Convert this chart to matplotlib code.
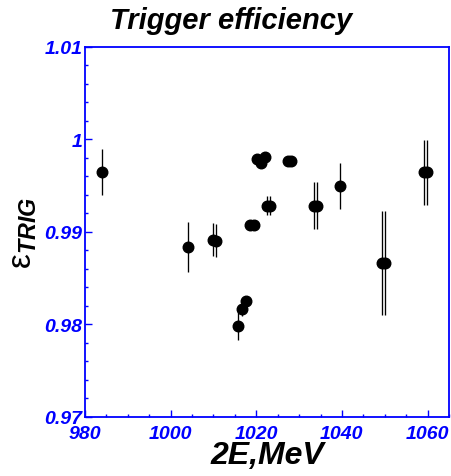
import matplotlib
matplotlib.use("Agg")
import matplotlib.pyplot as plt
from matplotlib.ticker import MultipleLocator, FormatStrFormatter

plt.rcParams['font.family'] = ['Liberation Sans', 'DejaVu Sans']
plt.rcParams['mathtext.fontset'] = 'custom'
plt.rcParams['mathtext.rm'] = 'Liberation Sans'
plt.rcParams['mathtext.it'] = 'Liberation Sans:italic:bold'

BLUE = '#0000ff'

# beam energy points (2E, MeV), trigger efficiency and its error
energy = [983.9, 1004.0, 1009.8, 1010.5, 1015.8, 1016.7, 1017.7, 1018.5, 1019.4,
          1020.1, 1021.0, 1022.1, 1022.5, 1023.2, 1027.4, 1028.1, 1033.4, 1034.1,
          1039.6, 1049.3, 1050.0, 1059.1, 1059.8]
eff = [0.9964, 0.9883, 0.9891, 0.9890, 0.9798, 0.9816, 0.9825, 0.9907, 0.9907,
       0.9978, 0.9974, 0.9981, 0.9928, 0.9928, 0.9976, 0.9976, 0.9928, 0.9928,
       0.9949, 0.9866, 0.9866, 0.9964, 0.9964]
eff_err = [0.0025, 0.0027, 0.0018, 0.0018, 0.0015, 0.0007, 0.0004, 0.0003, 0.0003,
           0.0003, 0.0003, 0.0003, 0.0010, 0.0010, 0.0004, 0.0004, 0.0025, 0.0025,
           0.0025, 0.0056, 0.0056, 0.0035, 0.0035]

fig = plt.figure(figsize=(4.51, 4.77), dpi=100)
ax = fig.add_axes([0.1885, 0.1247, 0.807, 0.7757])

ax.errorbar(energy, eff, yerr=eff_err, fmt='o', color='black', ms=7.6,
            elinewidth=0.95, capsize=0)

ax.set_xlim(980, 1065)
ax.set_ylim(0.97, 1.01)

for sp in ax.spines.values():
    sp.set_color(BLUE)
    sp.set_linewidth(1.3)

ax.xaxis.set_major_locator(MultipleLocator(20))
ax.xaxis.set_minor_locator(MultipleLocator(5))
ax.yaxis.set_major_locator(MultipleLocator(0.01))
ax.yaxis.set_minor_locator(MultipleLocator(0.002))
ax.yaxis.set_major_formatter(FormatStrFormatter('%g'))

ax.tick_params(which='both', direction='in', colors=BLUE, top=False, right=False)
ax.tick_params(which='major', length=5, width=1.0, labelsize=14)
ax.tick_params(which='minor', length=2.5, width=1.0)
ax.tick_params(axis='x', which='major', pad=6)
ax.tick_params(axis='y', which='major', pad=2)
for lab in ax.get_xticklabels() + ax.get_yticklabels():
    lab.set_fontweight('bold')
    lab.set_fontstyle('italic')

ax.set_xlabel('2E,MeV', fontsize=23, fontweight='bold', fontstyle='italic', labelpad=-1)
ax.set_ylabel(r'$\mathrm{\varepsilon}_{TRIG}$', fontsize=24, labelpad=4)

fig.text(0.512, 0.985, 'Trigger efficiency', ha='center', va='top',
         fontsize=21, fontweight='bold', fontstyle='italic')

fig.savefig('out.png', dpi=100)
